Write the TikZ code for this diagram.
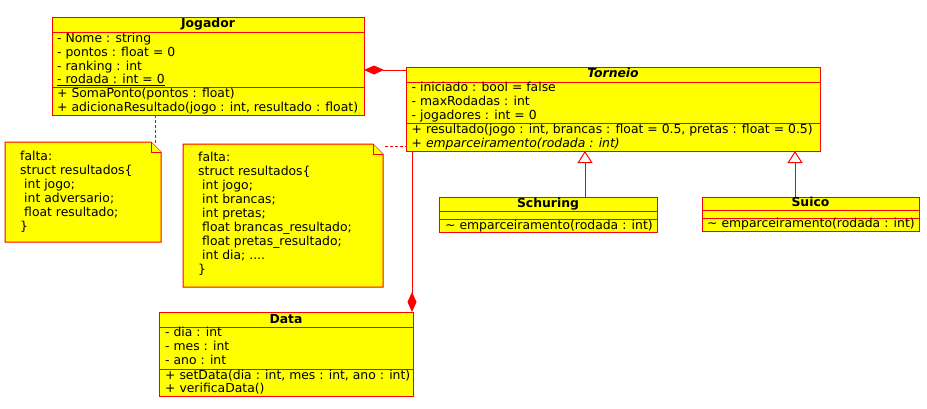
\documentclass[tikz,border=0pt]{standalone}
\usepackage{fontspec}
\setmainfont{DejaVu Sans}
\usetikzlibrary{arrows.meta,calc}
\definecolor{umlyellow}{RGB}{255,255,0}
\definecolor{umlred}{RGB}{255,0,0}
\begin{document}
\begin{tikzpicture}[x=1pt,y=-1pt,
  box/.style={draw=umlred,fill=umlyellow,line width=1pt,anchor=north west,inner sep=0pt,outer sep=0pt},
  sep/.style={draw=umlred,line width=1pt},
  txt/.style={anchor=base west,inner sep=0pt,font=\fontsize{12.4}{14}\selectfont},
  ttl/.style={anchor=base,inner sep=0pt,font=\fontsize{12.4}{14}\selectfont\bfseries},
  comp/.style={draw=umlred,line width=1pt,-{Diamond[length=20pt,width=9pt,fill=umlred]}},
  inh/.style={draw=umlred,line width=1pt,-{Triangle[open,length=12pt,width=15pt,fill=white]}},
  notelink/.style={draw=umlred,line width=1pt,dash pattern=on 3pt off 2pt},
  notebg/.style={anchor=north west,inner sep=0pt,outer sep=0pt},
  noteline/.style={draw=umlred,fill=umlyellow,line width=1pt,line join=miter}
]
\useasboundingbox (0,0) rectangle (927,408);

% ---------- Jogador ----------
\node[box,minimum width=312pt,minimum height=98pt] (jog) at (52,17) {};
\draw[sep] (jog.west |- 0,32) -- (jog.east |- 0,32);
\draw[sep] (jog.west |- 0,87) -- (jog.east |- 0,87);
\node[ttl] (jogT) at (208,27.3) {Jogador};
\node[txt] (jogA1) at (57,42.3) {- Nome : string};
\node[txt] (jogA2) at (57,56) {- pontos : float = 0};
\node[txt] (jogA3) at (57,70) {- ranking : int};
\node[txt] (jogA4) at (57,83.5) {\underline{- rodada : int = 0}};
\node[txt] (jogM1) at (57,97.5) {+ SomaPonto(pontos : float)};
\node[txt] (jogM2) at (57,111.5) {+ adicionaResultado(jogo : int, resultado : float)};

% ---------- Torneio ----------
\node[box,minimum width=414pt,minimum height=84pt] (tor) at (406,67) {};
\draw[sep] (tor.west |- 0,82) -- (tor.east |- 0,82);
\draw[sep] (tor.west |- 0,123) -- (tor.east |- 0,123);
\node[ttl,font=\fontsize{12.4}{14}\selectfont\bfseries\itshape] (torT) at (613,77.3) {Torneio};
\node[txt] (torA1) at (411.5,91.7) {- iniciado : bool = false};
\node[txt] (torA2) at (411.5,105.7) {- maxRodadas : int};
\node[txt] (torA3) at (411.5,119.5) {- jogadores : int = 0};
\node[txt] (torM1) at (411.5,133.3) {+ resultado(jogo : int, brancas : float = 0.5, pretas : float = 0.5)};
\node[txt] (torM2) at (411.5,147.3) {+ \textit{emparceiramento(rodada : int)}};

% ---------- Schuring ----------
\node[box,minimum width=218pt,minimum height=35pt] (sch) at (439,197) {};
\draw[sep] (sch.west |- 0,211) -- (sch.east |- 0,211);
\draw[sep] (sch.west |- 0,219) -- (sch.east |- 0,219);
\node[ttl] (schT) at (548,207.5) {Schuring};
\node[txt] (schM1) at (445,229) {\textasciitilde\ emparceiramento(rodada : int)};

% ---------- Suico ----------
\node[box,minimum width=217pt,minimum height=34pt] (sui) at (702,197) {};
\draw[sep] (sui.west |- 0,210) -- (sui.east |- 0,210);
\draw[sep] (sui.west |- 0,218) -- (sui.east |- 0,218);
\node[ttl] (suiT) at (810.5,206.7) {Suico};
\node[txt] (suiM1) at (707,227.5) {\textasciitilde\ emparceiramento(rodada : int)};

% ---------- Data ----------
\node[box,minimum width=254pt,minimum height=84pt] (dat) at (159,312) {};
\draw[sep] (dat.west |- 0,327) -- (dat.east |- 0,327);
\draw[sep] (dat.west |- 0,369) -- (dat.east |- 0,369);
\node[ttl] (datT) at (286,323.3) {Data};
\node[txt] (datA1) at (165,336.7) {- dia : int};
\node[txt] (datA2) at (165,350.7) {- mes : int};
\node[txt] (datA3) at (165,364.7) {- ano : int};
\node[txt] (datM1) at (165,379) {+ setData(dia : int, mes : int, ano : int)};
\node[txt] (datM2) at (165,392.7) {+ verificaData()};

% ---------- Notes ----------
\node[notebg,minimum width=156pt,minimum height=100pt] (n1) at (5,142) {};
\draw[noteline] (n1.north west) -- ($(n1.north east)+(-10,0)$) -- ($(n1.north east)+(0,10)$) -- (n1.south east) -- (n1.south west) -- cycle;
\draw[noteline] ($(n1.north east)+(-10,0)$) -- ($(n1.north east)+(-10,10)$) -- ($(n1.north east)+(0,10)$);
\node[txt] (n1L1) at (20,160) {falta:};
\node[txt] (n1L2) at (20,174) {struct resultados\{};
\node[txt] (n1L3) at (24,188) {int jogo;};
\node[txt] (n1L4) at (24,202) {int adversario;};
\node[txt] (n1L5) at (24,216) {float resultado;};
\node[txt] (n1L6) at (20,230) {\}};

\node[notebg,minimum width=200pt,minimum height=143pt] (n2) at (183,144) {};
\draw[noteline] (n2.north west) -- ($(n2.north east)+(-10,0)$) -- ($(n2.north east)+(0,10)$) -- (n2.south east) -- (n2.south west) -- cycle;
\draw[noteline] ($(n2.north east)+(-10,0)$) -- ($(n2.north east)+(-10,10)$) -- ($(n2.north east)+(0,10)$);
\node[txt] (n2L1) at (198,161.7) {falta:};
\node[txt] (n2L2) at (198,175.7) {struct resultados\{};
\node[txt] (n2L3) at (202,189.7) {int jogo;};
\node[txt] (n2L4) at (202,203.7) {int brancas;};
\node[txt] (n2L5) at (202,217.7) {int pretas;};
\node[txt] (n2L6) at (202,231.7) {float brancas\_resultado;};
\node[txt] (n2L7) at (202,245.7) {float pretas\_resultado;};
\node[txt] (n2L8) at (202,259.7) {int dia; ....};
\node[txt] (n2L9) at (198,273.5) {\}};

% ---------- Connectors ----------
\draw[comp] (tor.west |- 0,70) -- (jog.east |- 0,70);
\draw[comp] (tor.south -| 412,0) -- (412,312);
\draw[inh] (sch.north -| 585,0) -- (tor.south -| 585,0);
\draw[inh] (sui.north -| 795,0) -- (tor.south -| 795,0);
\draw[notelink] (jog.south -| 155,0) -- ($(n1.north east)+(-6,3)$);
\draw[notelink] ($(n2.north east)+(2,2)$) -- (tor.west |- 0,146);
\end{tikzpicture}
\end{document}
